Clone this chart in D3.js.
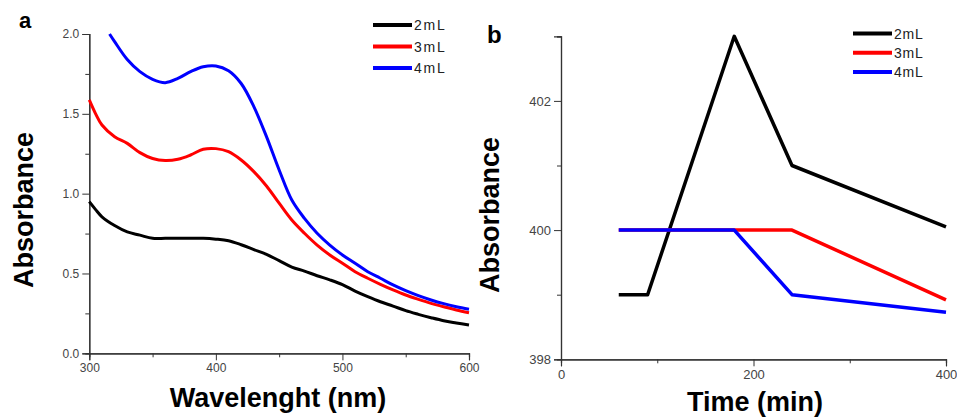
<!DOCTYPE html>
<html><head><meta charset="utf-8">
<script src="https://cdn.jsdelivr.net/npm/d3@7"></script>
<style>
html,body{margin:0;padding:0;background:#fff;}
svg{display:block;font-family:"Liberation Sans",Arial,sans-serif;}
.tick text{fill:#444;}
</style></head>
<body><svg id="c" width="957" height="419"></svg>
<script>
// ---- Panel a data ----
const wavelength = [300,305,310,320,330,340,350,360,370,380,390,400,410,420,430,440,450,460,470,480,490,500,510,520,530,540,550,560,570,580,590,600];
const abs2mL = [0.95,0.90,0.855,0.80,0.76,0.74,0.72,0.72,0.72,0.72,0.72,0.715,0.705,0.68,0.65,0.62,0.58,0.54,0.515,0.486,0.46,0.43,0.39,0.355,0.323,0.296,0.267,0.244,0.223,0.204,0.19,0.177];
const abs3mL = [1.587,1.50,1.43,1.357,1.315,1.257,1.22,1.207,1.215,1.242,1.278,1.282,1.263,1.211,1.138,1.048,0.94,0.835,0.752,0.678,0.616,0.564,0.511,0.47,0.432,0.397,0.365,0.338,0.313,0.292,0.271,0.254];
const wavelength4 = [316,320,330,340,350,360,370,380,390,400,410,420,430,440,450,460,470,480,490,500,510,520,530,540,550,560,570,580,590,600];
const abs4mL = [2.0,1.952,1.84,1.764,1.716,1.695,1.722,1.764,1.795,1.80,1.77,1.69,1.545,1.357,1.148,0.96,0.845,0.752,0.678,0.616,0.564,0.511,0.47,0.428,0.392,0.361,0.334,0.311,0.292,0.276];
const aYTicks = [0.0,0.5,1.0,1.5,2.0];
const aXTicks = [300,400,500,600];

// ---- Panel b data ----
const time = [60,90,180,240,400];
const peak2mL = [399,399,403,401,400.05];
const peak3mL = [400,400,400,400,398.92];
const peak4mL = [400,400,400,399,398.73];
const bYTicks = [398,400,402];
const bXTicks = [0,200,400];

const legendLabels = ["2mL","3mL","4mL"];
const colors = ["#000000","#ff0000","#0000ff"];

const svg = d3.select("#c");

function panel(opts){
  const g = svg.append("g");
  const x = d3.scaleLinear().domain(opts.xd).range(opts.xr);
  const y = d3.scaleLinear().domain(opts.yd).range(opts.yr);
  // minor ticks
  const xa = d3.axisBottom(x).tickValues(opts.xMinor).tickSize(4).tickFormat("");
  g.append("g").attr("transform",`translate(0,${opts.yr[0]})`).call(xa);
  const ya = d3.axisLeft(y).tickValues(opts.yMinor).tickSize(4).tickFormat("");
  g.append("g").attr("transform",`translate(${opts.xr[0]},0)`).call(ya);
  // major
  const xA = d3.axisBottom(x).tickValues(opts.xTicks).tickSize(7).tickPadding(3).tickFormat(opts.xFmt);
  const gx = g.append("g").attr("transform",`translate(0,${opts.yr[0]})`).call(xA);
  const yA = d3.axisLeft(y).tickValues(opts.yTicks).tickSize(7).tickPadding(3).tickFormat(opts.yFmt);
  const gy = g.append("g").attr("transform",`translate(${opts.xr[0]},0)`).call(yA);
  g.selectAll(".domain").attr("stroke","#333").attr("stroke-width",1.2);
  g.selectAll(".tick line").attr("stroke","#333");
  gx.selectAll(".tick text").attr("font-size",opts.tickFs).attr("font-family","Liberation Sans, Arial, sans-serif");
  gy.selectAll(".tick text").attr("font-size",opts.tickFs).attr("font-family","Liberation Sans, Arial, sans-serif");
  // lines
  const line = d3.line().x(d=>x(d[0])).y(d=>y(d[1])).curve(opts.curve);
  opts.series.forEach((s,i)=>{
    g.append("path").datum(s).attr("d",line).attr("fill","none")
     .attr("stroke",colors[i]).attr("stroke-width",opts.lw).attr("stroke-linejoin","round");
  });
  // legend
  legendLabels.forEach((l,i)=>{
    const ly = opts.leg[1] + i*opts.leg[2];
    g.append("line").attr("x1",opts.leg[0]).attr("x2",opts.leg[0]+39).attr("y1",ly).attr("y2",ly)
      .attr("stroke",colors[i]).attr("stroke-width",4);
    g.append("text").attr("x",opts.leg[0]+41).attr("y",ly+5).attr("font-size",14)
      .attr("letter-spacing",opts.leg[3]).attr("fill","#222").text(l);
  });
  // labels
  g.append("text").attr("x",opts.panelLabel[0]).attr("y",opts.panelLabel[1]).attr("font-weight","bold")
    .attr("font-size",opts.panelLabel[3]).text(opts.panelLabel[2]);
  g.append("text").attr("transform",`translate(${opts.ylab[0]},${opts.ylab[1]}) rotate(-90)`)
    .attr("text-anchor","middle").attr("font-weight","bold").attr("font-size",27).text("Absorbance");
  g.append("text").attr("x",opts.xlab[0]).attr("y",opts.xlab[1]).attr("text-anchor","middle")
    .attr("font-weight","bold").attr("font-size",27).text(opts.xlab[2]);
}

panel({
  xd:[300,600], xr:[89.3,469], yd:[0,2], yr:[353.3,34],
  xTicks:aXTicks, xMinor:[350,450,550], yTicks:aYTicks, yMinor:[0.25,0.75,1.25,1.75],
  xFmt:d3.format("d"), yFmt:d3.format(".1f"), tickFs:12,
  series:[d3.zip(wavelength,abs2mL), d3.zip(wavelength,abs3mL), d3.zip(wavelength4,abs4mL)],
  curve:d3.curveCatmullRom.alpha(0.5), lw:3,
  leg:[373,25,21.5,1.8], panelLabel:[19,28,"a",22], ylab:[33,210],
  xlab:[278,407,"Wavelenght (nm)"]
});

panel({
  xd:[0,400], xr:[561,946], yd:[398,403], yr:[359.3,36.3],
  xTicks:bXTicks, xMinor:[100,300], yTicks:bYTicks, yMinor:[399,401,403],
  xFmt:d3.format("d"), yFmt:d3.format("d"), tickFs:13,
  series:[d3.zip(time,peak2mL), d3.zip(time,peak3mL), d3.zip(time,peak4mL)],
  curve:d3.curveLinear, lw:3.5,
  leg:[853,33.5,19.3,0.8], panelLabel:[487,43,"b",24], ylab:[499,215],
  xlab:[755,411,"Time (min)"]
});
</script></body></html>
